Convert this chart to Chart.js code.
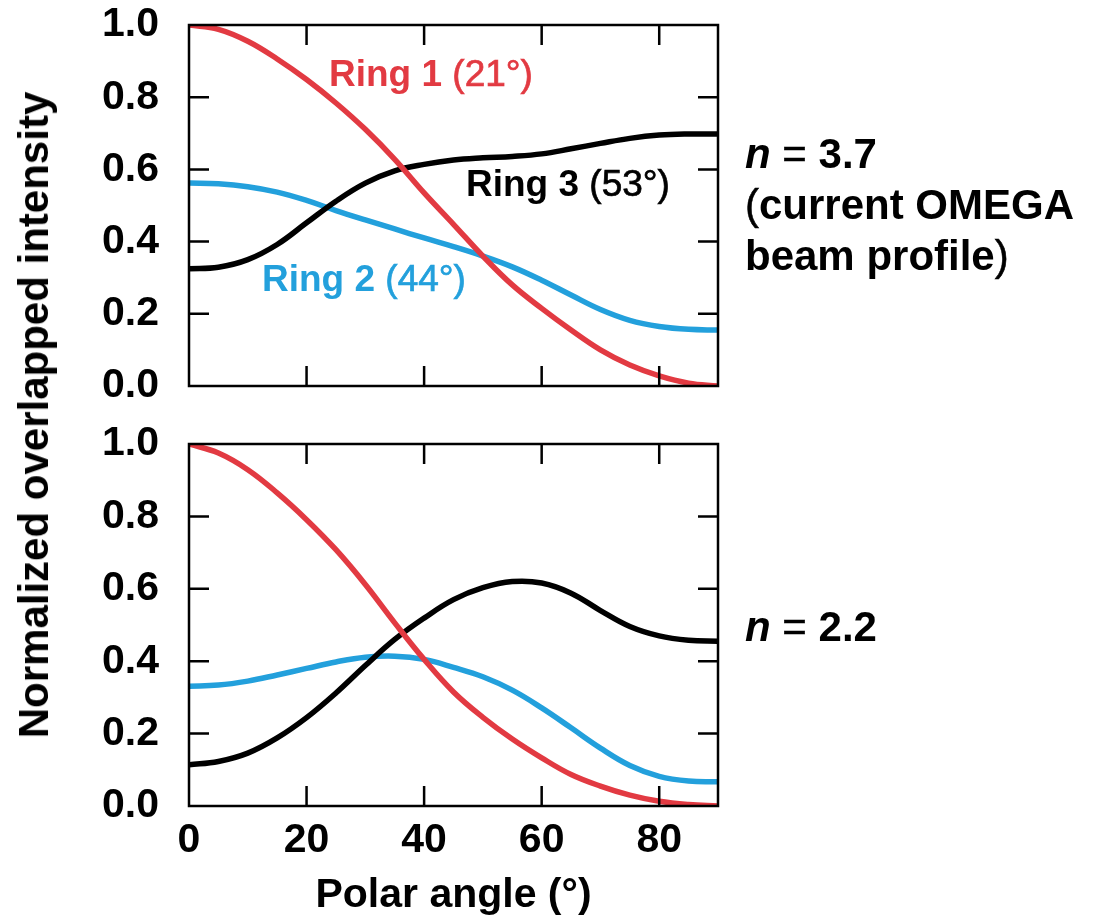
<!DOCTYPE html>
<html>
<head>
<meta charset="utf-8">
<script src="https://cdn.jsdelivr.net/npm/chart.js@4.4.1/dist/chart.umd.min.js"></script>
<style>
  body { margin: 0; background: #fff; }
  #wrap { position: relative; width: 1097px; height: 916px; overflow: hidden; font-family: 'Liberation Sans', Arial, sans-serif; }
  canvas { position: absolute; left: 0; top: 0; }
  .lbl { position: absolute; white-space: nowrap; font-weight: bold; }
  .ring { font-size: 37px; line-height: 37px; }
  .ring span { font-weight: normal; -webkit-text-stroke: 0.7px currentColor; }
  .side { font-size: 42px; line-height: 51px; color: #000; }
  .side span { font-weight: normal; -webkit-text-stroke: 0.5px currentColor; }
  #ytitle { position: absolute; left: 34px; top: 415px; transform: translate(-50%, -50%) rotate(-90deg);
            font-size: 42px; font-weight: bold; white-space: nowrap; }
</style>
</head>
<body>
<div id="wrap">
  <div style="position:absolute;left:0;top:0;width:1097px;height:430px"><canvas id="topChart" width="1097" height="430"></canvas></div>
  <div style="position:absolute;left:0;top:410px;width:1097px;height:506px"><canvas id="botChart" width="1097" height="506"></canvas></div>

  <div id="ytitle">Normalized overlapped intensity</div>

  <div class="lbl ring" style="left:329px;top:55px;color:#e23a42">Ring 1 <span>(21°)</span></div>
  <div class="lbl ring" style="left:466px;top:165px;color:#000">Ring 3 <span>(53°)</span></div>
  <div class="lbl ring" style="left:262px;top:260px;color:#23a0dc">Ring 2 <span>(44°)</span></div>

  <div class="lbl side" style="left:745px;top:128px"><i>n</i> <span>=</span> 3.7<br><span>(</span>current OMEGA<br>beam profile<span>)</span></div>
  <div class="lbl side" style="left:745px;top:601px"><i>n</i> <span>=</span> 2.2</div>
</div>

<script>
// polar angle samples (deg)
let angles = [0, 5, 10, 15, 20, 25, 30, 35, 40, 45, 50, 55, 60, 65, 70, 75, 80, 85, 90];

// n = 3.7 (current OMEGA beam profile)
let ring1Top = [1.000, 0.988, 0.955, 0.906, 0.849, 0.784, 0.711, 0.628, 0.535, 0.448, 0.360, 0.280, 0.215, 0.155, 0.100, 0.058, 0.028, 0.008, 0.000];
let ring2Top = [0.562, 0.560, 0.552, 0.537, 0.514, 0.486, 0.460, 0.435, 0.410, 0.386, 0.360, 0.330, 0.293, 0.252, 0.212, 0.182, 0.165, 0.157, 0.155];
let ring3Top = [0.325, 0.329, 0.350, 0.392, 0.452, 0.512, 0.562, 0.596, 0.614, 0.626, 0.632, 0.636, 0.643, 0.657, 0.672, 0.686, 0.695, 0.698, 0.698];

// n = 2.2
let ring1Bot = [1.000, 0.975, 0.929, 0.865, 0.791, 0.708, 0.612, 0.506, 0.405, 0.315, 0.245, 0.185, 0.133, 0.087, 0.055, 0.030, 0.013, 0.004, 0.000];
let ring2Bot = [0.331, 0.334, 0.345, 0.362, 0.380, 0.398, 0.411, 0.414, 0.405, 0.383, 0.357, 0.320, 0.271, 0.216, 0.160, 0.112, 0.082, 0.069, 0.067];
let ring3Bot = [0.114, 0.123, 0.146, 0.188, 0.244, 0.312, 0.388, 0.460, 0.519, 0.570, 0.603, 0.620, 0.616, 0.588, 0.540, 0.496, 0.470, 0.458, 0.455];

let xTicks = [0, 20, 40, 60, 80];
let yTicks = [0, 0.2, 0.4, 0.6, 0.8, 1.0];

let red = '#e23a42';
let blue = '#23a0dc';
let black = '#000000';

Chart.defaults.font.family = "'Liberation Sans', Arial, sans-serif";
Chart.defaults.font.weight = 'bold';
Chart.defaults.font.size = 41;
Chart.defaults.color = '#000';

function pts(vals) {
  return angles.map((a, i) => ({ x: a, y: vals[i] }));
}

function line(vals, color) {
  return {
    data: pts(vals),
    borderColor: color,
    borderWidth: 5.5,
    pointRadius: 0,
    tension: 0.4,
    fill: false
  };
}

// box with inward tick marks on all four sides
const framePlugin = {
  id: 'frame',
  afterDatasetsDraw(chart) {
    const { ctx, chartArea: a, scales: { x, y } } = chart;
    const len = 20;
    ctx.save();
    ctx.strokeStyle = '#000';
    ctx.lineWidth = 2.5;
    ctx.strokeRect(a.left, a.top, a.width, a.height);
    ctx.beginPath();
    x.ticks.forEach(t => {
      if (t.value <= x.min || t.value >= x.max) return;
      const px = x.getPixelForValue(t.value);
      ctx.moveTo(px, a.top); ctx.lineTo(px, a.top + len);
      ctx.moveTo(px, a.bottom); ctx.lineTo(px, a.bottom - len);
    });
    y.ticks.forEach(t => {
      if (t.value <= y.min || t.value >= y.max) return;
      const py = y.getPixelForValue(t.value);
      ctx.moveTo(a.left, py); ctx.lineTo(a.left + len, py);
      ctx.moveTo(a.right, py); ctx.lineTo(a.right - len, py);
    });
    ctx.stroke();
    ctx.restore();
  }
};

function makeChart(id, sets, isBottom) {
  return new Chart(document.getElementById(id), {
    type: 'line',
    data: { datasets: sets },
    plugins: [framePlugin],
    options: {
      responsive: false,
      animation: false,
      events: [],
      layout: { padding: isBottom ? { top: 34, right: 379, bottom: 0, left: 0 } : { top: 25, right: 379, bottom: 44, left: 0 } },
      plugins: { legend: { display: false }, tooltip: { enabled: false } },
      scales: {
        x: {
          type: 'linear',
          min: 0,
          max: 90,
          afterBuildTicks: s => { s.ticks = xTicks.map(v => ({ value: v })); },
          afterFit: s => { s.height = isBottom ? 110 : 0; s.paddingLeft = 0; s.paddingRight = 0; },
          grid: { display: false, drawTicks: false },
          border: { display: false },
          ticks: { display: isBottom, padding: 10, maxRotation: 0, autoSkip: false },
          title: isBottom ? {
            display: true,
            text: 'Polar angle (°)',
            font: { size: 41, weight: 'bold', lineHeight: 1 },
            padding: { top: 0, bottom: 0 }
          } : { display: false }
        },
        y: {
          min: 0,
          max: 1,
          afterBuildTicks: s => { s.ticks = yTicks.map(v => ({ value: v })); },
          afterFit: s => { s.width = 189; s.paddingTop = 0; s.paddingBottom = 0; },
          grid: { display: false, drawTicks: false },
          border: { display: false },
          ticks: { padding: 30, callback: v => v.toFixed(1) }
        }
      }
    }
  });
}

makeChart('topChart', [line(ring1Top, red), line(ring3Top, black), line(ring2Top, blue)], false);
makeChart('botChart', [line(ring1Bot, red), line(ring3Bot, black), line(ring2Bot, blue)], true);
</script>
</body>
</html>
